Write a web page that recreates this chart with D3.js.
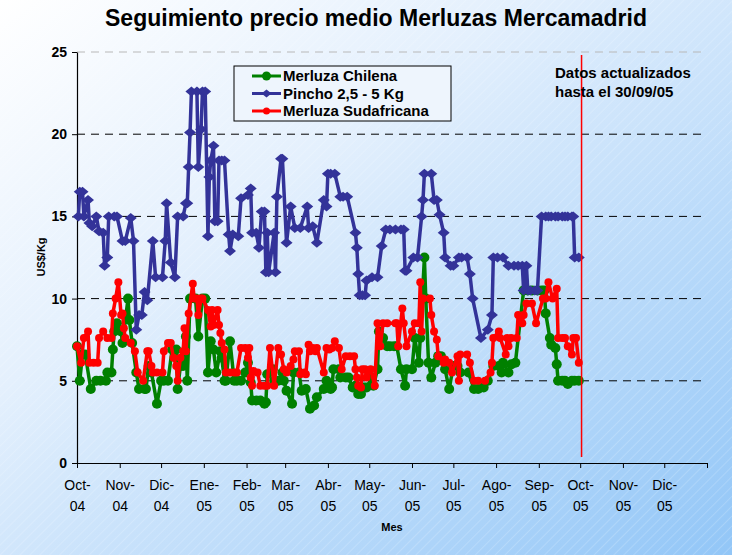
<!DOCTYPE html>
<html><head><meta charset="utf-8">
<script src="https://cdn.jsdelivr.net/npm/d3@7"></script>
<style>html,body{margin:0;padding:0;background:#fff;}svg{display:block;font-family:"Liberation Sans",Arial,sans-serif;}</style>
</head><body><svg id="chart" width="732" height="555"></svg>
<script>
const title = "Seguimiento precio medio Merluzas Mercamadrid";
const seriesNames = ["Merluza Chilena", "Pincho 2,5 - 5 Kg", "Merluza Sudafricana"];
const monthStarts = ["2004-10-01","2004-11-01","2004-12-01","2005-01-01","2005-02-01","2005-03-01","2005-04-01","2005-05-01","2005-06-01","2005-07-01","2005-08-01","2005-09-01","2005-10-01","2005-11-01","2005-12-01","2006-01-01"];
const monthLabels = ["Oct-04","Nov-04","Dic-04","Ene-05","Feb-05","Mar-05","Abr-05","May-05","Jun-05","Jul-05","Ago-05","Sep-05","Oct-05","Nov-05","Dic-05",""];
const yTicks = [0,5,10,15,20,25];
const updateDate = "2005-10-02";

const pinchoDates = ["2004-10-02","2004-10-03","2004-10-05","2004-10-06","2004-10-09","2004-10-10","2004-10-12","2004-10-15","2004-10-17","2004-10-20","2004-10-21","2004-10-23","2004-10-24","2004-10-28","2004-10-30","2004-11-03","2004-11-05","2004-11-09","2004-11-11","2004-11-13","2004-11-15","2004-11-17","2004-11-19","2004-11-21","2004-11-25","2004-11-27","2004-12-02","2004-12-04","2004-12-05","2004-12-08","2004-12-11","2004-12-13","2004-12-17","2004-12-19","2004-12-20","2004-12-21","2004-12-22","2004-12-23","2004-12-27","2004-12-28","2004-12-30","2004-12-31","2005-01-02","2005-01-04","2005-01-05","2005-01-06","2005-01-08","2005-01-09","2005-01-11","2005-01-12","2005-01-14","2005-01-16","2005-01-19","2005-01-20","2005-01-22","2005-01-26","2005-01-28","2005-02-02","2005-02-04","2005-02-05","2005-02-08","2005-02-10","2005-02-12","2005-02-14","2005-02-15","2005-02-16","2005-02-17","2005-02-21","2005-02-22","2005-02-23","2005-02-26","2005-02-27","2005-03-02","2005-03-05","2005-03-08","2005-03-12","2005-03-17","2005-03-18","2005-03-21","2005-03-24","2005-03-29","2005-03-31","2005-04-01","2005-04-03","2005-04-06","2005-04-10","2005-04-12","2005-04-15","2005-04-21","2005-04-22","2005-04-23","2005-04-24","2005-04-26","2005-04-28","2005-04-29","2005-05-03","2005-05-07","2005-05-10","2005-05-13","2005-05-16","2005-05-20","2005-05-24","2005-05-26","2005-05-27","2005-05-28","2005-06-02","2005-06-05","2005-06-08","2005-06-09","2005-06-10","2005-06-15","2005-06-17","2005-06-19","2005-06-21","2005-06-24","2005-06-25","2005-06-29","2005-07-01","2005-07-05","2005-07-07","2005-07-11","2005-07-13","2005-07-15","2005-07-21","2005-07-26","2005-07-29","2005-07-30","2005-08-02","2005-08-06","2005-08-10","2005-08-14","2005-08-17","2005-08-20","2005-08-21","2005-08-23","2005-08-24","2005-08-26","2005-08-29","2005-08-31","2005-09-03","2005-09-06","2005-09-08","2005-09-10","2005-09-13","2005-09-15","2005-09-18","2005-09-20","2005-09-22","2005-09-25","2005-09-26","2005-09-27","2005-09-30"];
const pinchoValues = [15.0,16.5,16.5,15.0,16.0,14.6,14.4,15.0,14.1,14.0,12.0,12.5,15.0,15.0,15.0,13.5,13.5,14.9,13.5,8.1,9.0,9.0,10.4,9.9,13.5,11.3,11.3,13.5,15.8,12.2,11.3,15.0,15.0,15.8,15.8,18.0,20.1,22.6,22.6,18.0,20.3,22.6,22.6,13.8,17.4,18.4,19.3,14.7,14.7,18.4,18.4,18.4,13.9,12.9,13.9,13.8,16.1,16.3,16.7,14.0,14.0,13.1,15.3,15.3,11.6,14.0,11.6,14.0,11.6,16.2,18.5,18.5,13.4,15.6,14.3,14.3,15.6,14.3,14.4,13.4,16.0,15.6,17.6,17.6,17.6,16.2,16.2,16.2,14.0,13.1,11.5,10.2,10.2,10.2,11.1,11.3,11.3,13.2,14.2,14.2,14.2,14.2,14.2,11.7,11.7,12.5,12.5,15.0,16.0,17.6,17.6,16.0,16.0,15.1,14.0,12.5,12.0,12.0,12.5,12.5,12.5,11.5,10.0,7.6,8.1,9.0,12.5,12.5,12.5,12.0,12.0,12.0,12.0,10.5,12.0,10.5,10.5,10.5,10.5,15.0,15.0,15.0,15.0,15.0,15.0,15.0,15.0,15.0,15.0,15.0,12.5,12.5];

const chilenaDates = ["2004-10-01","2004-10-03","2004-10-05","2004-10-07","2004-10-11","2004-10-15","2004-10-18","2004-10-22","2004-10-23","2004-10-26","2004-10-27","2004-10-28","2004-10-30","2004-11-02","2004-11-03","2004-11-07","2004-11-08","2004-11-10","2004-11-13","2004-11-15","2004-11-19","2004-11-20","2004-11-22","2004-11-24","2004-11-28","2004-12-01","2004-12-03","2004-12-06","2004-12-09","2004-12-12","2004-12-13","2004-12-15","2004-12-17","2004-12-19","2004-12-20","2004-12-22","2004-12-26","2004-12-28","2004-12-31","2005-01-02","2005-01-04","2005-01-06","2005-01-08","2005-01-10","2005-01-13","2005-01-14","2005-01-16","2005-01-17","2005-01-20","2005-01-23","2005-01-25","2005-01-28","2005-01-31","2005-02-02","2005-02-03","2005-02-04","2005-02-05","2005-02-08","2005-02-11","2005-02-14","2005-02-15","2005-02-16","2005-02-20","2005-02-21","2005-02-24","2005-02-27","2005-02-28","2005-03-02","2005-03-06","2005-03-07","2005-03-11","2005-03-13","2005-03-16","2005-03-19","2005-03-22","2005-03-24","2005-03-29","2005-03-31","2005-04-03","2005-04-04","2005-04-05","2005-04-09","2005-04-10","2005-04-14","2005-04-16","2005-04-19","2005-04-21","2005-04-23","2005-04-25","2005-04-27","2005-04-29","2005-05-03","2005-05-04","2005-05-07","2005-05-08","2005-05-11","2005-05-14","2005-05-16","2005-05-19","2005-05-21","2005-05-24","2005-05-27","2005-05-28","2005-06-01","2005-06-03","2005-06-06","2005-06-07","2005-06-10","2005-06-11","2005-06-13","2005-06-15","2005-06-18","2005-06-20","2005-06-22","2005-06-25","2005-06-28","2005-07-01","2005-07-04","2005-07-06","2005-07-12","2005-07-16","2005-07-19","2005-07-23","2005-07-26","2005-07-30","2005-08-03","2005-08-05","2005-08-06","2005-08-10","2005-08-12","2005-08-15","2005-08-21","2005-08-24","2005-08-27","2005-08-31","2005-09-03","2005-09-05","2005-09-06","2005-09-09","2005-09-10","2005-09-13","2005-09-14","2005-09-15","2005-09-18","2005-09-20","2005-09-22","2005-09-25","2005-09-27","2005-09-30"];
const chilenaValues = [7.1,5.0,6.6,6.6,4.5,5.0,5.0,5.0,5.5,5.5,6.9,8.0,8.5,8.0,7.3,10.0,8.7,7.3,5.5,4.5,4.5,4.5,5.9,5.5,3.6,5.0,5.0,5.0,6.9,6.9,4.5,5.9,5.9,7.7,5.0,10.0,10.0,7.7,10.0,10.0,5.5,7.4,6.9,5.5,6.8,6.4,5.0,5.0,7.4,5.0,5.0,5.0,5.5,6.1,5.5,4.9,3.8,3.8,3.8,3.6,3.7,5.4,5.7,5.0,5.0,5.5,5.0,4.4,3.6,5.5,5.5,4.4,4.5,3.3,3.5,4.0,4.5,5.0,4.5,4.6,5.7,5.7,5.2,5.2,5.2,4.6,4.7,4.2,4.2,4.6,4.6,5.2,4.7,5.7,8.0,7.6,7.1,7.1,7.1,7.1,5.7,4.7,5.7,5.7,7.6,6.1,7.6,12.5,10.0,6.1,5.2,6.1,6.5,6.5,5.7,4.5,5.9,5.9,5.5,5.5,4.5,4.5,4.6,5.0,5.9,5.9,5.5,6.1,5.5,6.0,6.1,10.5,10.5,10.5,10.5,10.5,10.5,9.1,7.6,7.2,7.0,6.0,5.0,5.0,5.0,4.8,5.0,5.0,5.0];

const sudafricanaDates = ["2004-10-01","2004-10-04","2004-10-06","2004-10-09","2004-10-10","2004-10-13","2004-10-16","2004-10-17","2004-10-20","2004-10-23","2004-10-26","2004-10-27","2004-10-29","2004-10-31","2004-11-02","2004-11-03","2004-11-04","2004-11-05","2004-11-09","2004-11-12","2004-11-14","2004-11-18","2004-11-21","2004-11-22","2004-11-24","2004-11-25","2004-11-28","2004-12-02","2004-12-03","2004-12-06","2004-12-08","2004-12-10","2004-12-12","2004-12-13","2004-12-15","2004-12-17","2004-12-18","2004-12-19","2004-12-21","2004-12-24","2004-12-25","2004-12-27","2004-12-28","2004-12-30","2004-12-31","2005-01-04","2005-01-06","2005-01-07","2005-01-08","2005-01-11","2005-01-12","2005-01-13","2005-01-14","2005-01-16","2005-01-17","2005-01-20","2005-01-23","2005-01-25","2005-01-28","2005-01-31","2005-02-02","2005-02-03","2005-02-04","2005-02-05","2005-02-06","2005-02-09","2005-02-11","2005-02-14","2005-02-16","2005-02-18","2005-02-21","2005-02-24","2005-02-26","2005-02-28","2005-03-02","2005-03-05","2005-03-07","2005-03-08","2005-03-11","2005-03-12","2005-03-15","2005-03-16","2005-03-18","2005-03-19","2005-03-21","2005-03-23","2005-03-24","2005-03-29","2005-03-31","2005-04-02","2005-04-04","2005-04-06","2005-04-09","2005-04-11","2005-04-14","2005-04-17","2005-04-20","2005-04-21","2005-04-22","2005-04-23","2005-04-25","2005-04-26","2005-04-28","2005-04-29","2005-05-02","2005-05-05","2005-05-07","2005-05-09","2005-05-11","2005-05-14","2005-05-20","2005-05-21","2005-05-22","2005-05-25","2005-05-26","2005-05-28","2005-06-01","2005-06-03","2005-06-06","2005-06-07","2005-06-08","2005-06-09","2005-06-14","2005-06-15","2005-06-17","2005-06-19","2005-06-20","2005-06-24","2005-06-25","2005-06-28","2005-06-30","2005-07-04","2005-07-05","2005-07-06","2005-07-11","2005-07-13","2005-07-16","2005-07-19","2005-07-24","2005-07-28","2005-07-29","2005-07-30","2005-08-03","2005-08-04","2005-08-08","2005-08-09","2005-08-10","2005-08-12","2005-08-16","2005-08-17","2005-08-20","2005-08-21","2005-08-23","2005-08-27","2005-08-30","2005-09-04","2005-09-06","2005-09-08","2005-09-11","2005-09-14","2005-09-15","2005-09-18","2005-09-20","2005-09-22","2005-09-25","2005-09-26","2005-09-28","2005-09-30"];
const sudafricanaValues = [7.1,6.1,7.6,8.0,6.1,6.1,6.1,7.6,8.0,7.6,7.6,9.1,10.0,11.0,9.0,9.1,8.2,7.6,7.3,6.8,5.5,5.0,6.8,6.8,5.9,5.5,5.5,5.5,6.8,7.3,7.3,6.4,5.9,5.0,6.4,6.8,8.2,6.8,9.1,10.9,10.0,10.0,9.0,10.0,10.0,9.3,8.3,9.3,8.4,9.3,8.4,7.9,7.3,6.9,5.5,5.5,5.5,5.5,7.0,7.0,6.4,7.0,5.2,4.7,5.6,5.5,4.7,4.7,4.7,7.0,4.7,7.0,6.6,5.7,5.5,5.9,6.3,6.8,6.8,5.4,5.5,5.4,7.2,6.8,7.0,6.8,7.0,5.5,7.0,6.9,7.0,7.4,7.0,5.7,6.5,6.5,6.5,5.7,5.2,4.7,4.6,5.7,5.7,5.2,5.7,4.7,8.5,7.1,8.5,8.5,8.5,8.5,7.1,9.4,8.5,7.1,8.0,8.5,8.5,11.0,8.0,10.0,10.0,9.0,8.0,7.5,6.5,6.1,6.3,6.1,5.5,6.5,5.0,6.6,6.6,6.1,5.0,5.0,5.0,5.5,6.1,7.6,8.0,7.6,6.6,7.6,7.1,7.6,7.6,9.0,8.5,9.0,9.7,9.7,8.5,10.0,10.0,11.0,10.0,10.6,7.6,7.6,7.6,7.1,6.6,7.6,7.6,6.1];

const colors = ["#008000", "#333399", "#FF0000"];
const FONT = '"Liberation Sans",Arial,sans-serif';

const parse = d3.timeParse("%Y-%m-%d");
const svg = d3.select("#chart");
const W = 732, H = 555;
const defs = svg.append("defs");
const grad = defs.append("linearGradient").attr("id","bg").attr("x1","0").attr("y1","0").attr("x2","1").attr("y2","1");
grad.append("stop").attr("offset","0%").attr("stop-color","#ffffff");
grad.append("stop").attr("offset","35%").attr("stop-color","#e4f0fd");
grad.append("stop").attr("offset","100%").attr("stop-color","#92c6f7");
const pat = defs.append("pattern").attr("id","hatch").attr("patternUnits","userSpaceOnUse")
  .attr("width",7).attr("height",7).attr("patternTransform","rotate(45)");
pat.append("line").attr("x1",0).attr("y1",0).attr("x2",0).attr("y2",7)
  .attr("stroke","#ffffff").attr("stroke-width",1).attr("stroke-opacity",0.35);

svg.append("rect").attr("width",W).attr("height",H).attr("fill","url(#bg)");
svg.append("rect").attr("width",W).attr("height",H).attr("fill","url(#hatch)");

const x = d3.scaleTime().domain([parse("2004-10-01"), parse("2006-01-01")]).range([77, 707]);
const y = d3.scaleLinear().domain([0, 25]).range([463, 52]);

// title
svg.append("text").attr("x", 376).attr("y", 26).attr("text-anchor","middle")
  .attr("font-size", 23).attr("font-weight","bold").attr("fill","#000").text(title);

// gridlines
svg.append("g").selectAll("line").data(yTicks.filter(v => v > 0)).join("line")
  .attr("x1", x.range()[0]).attr("x2", x.range()[1])
  .attr("y1", d => y(d)).attr("y2", d => y(d))
  .attr("stroke", d => d === 25 ? "#b8b8b8" : "#000")
  .attr("stroke-width", 1).attr("stroke-dasharray","8,6");

// y axis
const yAxis = svg.append("g").attr("transform", `translate(${x.range()[0]},0)`)
  .call(d3.axisLeft(y).tickValues(yTicks).tickSize(5).tickSizeOuter(0).tickFormat(d3.format("d")));
yAxis.select(".domain").attr("stroke","#000").attr("stroke-width",1.2);
yAxis.selectAll(".tick line").attr("stroke","#000");
yAxis.selectAll(".tick text").attr("font-size",14).attr("font-weight","bold")
  .attr("font-family",FONT).attr("fill","#000").attr("x",-10);

// x axis
const xAxis = svg.append("g").attr("transform", `translate(0,${y(0)})`)
  .call(d3.axisBottom(x).tickValues(monthStarts.map(parse)).tickSize(5).tickSizeOuter(0).tickFormat((d,i) => monthLabels[i]));
xAxis.select(".domain").attr("stroke","#000").attr("stroke-width",1.2);
xAxis.selectAll(".tick line").attr("stroke","#000");
xAxis.selectAll(".tick text").each(function(d, i) {
  const t = d3.select(this);
  const lab = monthLabels[i];
  t.text(null).attr("y", 0).attr("dy", null).attr("font-size", 14)
    .attr("font-family",FONT).attr("fill","#000");
  if (!lab) return;
  const parts = lab.split("-");
  t.append("tspan").attr("x", 0).attr("y", 27).text(parts[0] + "-");
  t.append("tspan").attr("x", 0).attr("y", 48).text(parts[1]);
});

// axis titles
svg.append("text").attr("transform","translate(45,257) rotate(-90)").attr("text-anchor","middle")
  .attr("font-size",11).attr("font-weight","bold").text("US$/Kg");
svg.append("text").attr("x",392).attr("y",531).attr("text-anchor","middle")
  .attr("font-size",11).attr("font-weight","bold").text("Mes");

// series
const diamond = "M0,-5L6,0L0,5L-6,0Z";
const makeData = (dates, vals) => dates.map((d, i) => ({ date: parse(d), v: vals[i] }));
const series = [
  { data: makeData(chilenaDates, chilenaValues), color: colors[0], marker: "circle", r: 5 },
  { data: makeData(pinchoDates, pinchoValues), color: colors[1], marker: "diamond" },
  { data: makeData(sudafricanaDates, sudafricanaValues), color: colors[2], marker: "circle", r: 4 }
];
const line = d3.line().x(d => x(d.date)).y(d => y(d.v));
series.forEach(s => {
  const g = svg.append("g");
  g.append("path").datum(s.data).attr("d", line).attr("fill","none")
    .attr("stroke", s.color).attr("stroke-width", 3.5).attr("stroke-linejoin","round");
  if (s.marker === "circle") {
    g.selectAll("circle").data(s.data).join("circle")
      .attr("cx", d => x(d.date)).attr("cy", d => y(d.v)).attr("r", s.r).attr("fill", s.color);
  } else {
    g.selectAll("path.m").data(s.data).join("path").attr("class","m")
      .attr("transform", d => `translate(${x(d.date)},${y(d.v)})`).attr("d", diamond).attr("fill", s.color);
  }
});

// update line
svg.append("line").attr("x1", x(parse(updateDate))).attr("x2", x(parse(updateDate)))
  .attr("y1", 55).attr("y2", 457).attr("stroke","#FF0000").attr("stroke-width",1.5);
svg.append("text").attr("x",555).attr("y",78).attr("font-size",15).attr("font-weight","bold").text("Datos actualizados");
svg.append("text").attr("x",555).attr("y",97).attr("font-size",15).attr("font-weight","bold").text("hasta el 30/09/05");

// legend
const lg = svg.append("g").attr("transform","translate(234,66)");
lg.append("rect").attr("width",217).attr("height",55).attr("fill","#eef5fd").attr("stroke","#000").attr("stroke-width",1);
seriesNames.forEach((name, i) => {
  const yy = 10 + i * 17.5;
  lg.append("line").attr("x1",18).attr("x2",47).attr("y1",yy).attr("y2",yy).attr("stroke",colors[i]).attr("stroke-width",3);
  if (i === 1) lg.append("path").attr("d", "M0,-4L5,0L0,4L-5,0Z").attr("transform",`translate(32.5,${yy})`).attr("fill",colors[i]);
  else lg.append("circle").attr("cx",32.5).attr("cy",yy).attr("r", i === 0 ? 4.5 : 3.5).attr("fill",colors[i]);
  lg.append("text").attr("x",49).attr("y",yy + 5).attr("font-size",15).attr("font-weight","bold").text(name);
});
</script></body></html>
